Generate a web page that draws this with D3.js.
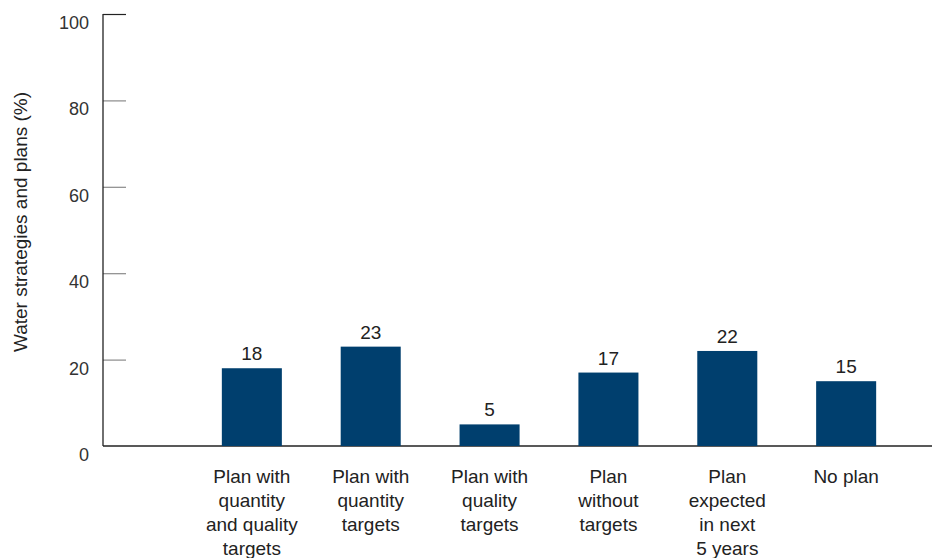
<!DOCTYPE html>
<html>
<head>
<meta charset="utf-8">
<script src="https://cdn.jsdelivr.net/npm/d3@7"></script>
<style>
  html, body { margin: 0; padding: 0; background: #fff; }
  svg { display: block; font-family: "Liberation Sans", Arial, sans-serif; }
</style>
</head>
<body>
<svg id="chart" width="932" height="558"></svg>
<script>
// Share of countries by type of water strategy / plan
const categories = [
  ["Plan with", "quantity", "and quality", "targets"],
  ["Plan with", "quantity", "targets"],
  ["Plan with", "quality", "targets"],
  ["Plan", "without", "targets"],
  ["Plan", "expected", "in next", "5 years"],
  ["No plan"]
];
const values = [18, 23, 5, 17, 22, 15];
const yTicks = [0, 20, 40, 60, 80, 100];
const yTitle = "Water strategies and plans (%)";

const svg = d3.select("#chart");
const x0 = 103, x1 = 932, yTop = 14, yBottom = 446;

const keys = categories.map(c => c.join(" "));
const x = d3.scaleBand()
  .domain(keys)
  .range([163, 935])
  .paddingInner(0.495)
  .paddingOuter(0.495);

const y = d3.scaleLinear().domain([0, 100]).range([yBottom, yTop]);

// gridline stubs inside the axis
const yAxis = d3.axisRight(y).tickValues(yTicks).tickSize(23).tickFormat("");
const gy = svg.append("g").attr("transform", `translate(${x0},0)`).call(yAxis);
gy.select(".domain").remove();
gy.selectAll(".tick line")
  .attr("stroke", d => d === 100 ? "#222" : "#8a8a8a")
  .attr("stroke-width", 1.2)
  .attr("opacity", d => d === 0 ? 0 : 1);

// tick labels
svg.append("g").selectAll("text").data(yTicks).join("text")
  .attr("x", 89)
  .attr("y", d => y(d) + 15)
  .attr("text-anchor", "end")
  .attr("font-size", 18)
  .attr("fill", "#333")
  .text(d => d);

// axis lines
svg.append("line").attr("x1", x0).attr("x2", x0).attr("y1", yTop).attr("y2", yBottom)
  .attr("stroke", "#222").attr("stroke-width", 1.3);
svg.append("line").attr("x1", x0).attr("x2", x1).attr("y1", yBottom).attr("y2", yBottom)
  .attr("stroke", "#222").attr("stroke-width", 1.3);

// bars
svg.append("g").selectAll("rect").data(values).join("rect")
  .attr("x", (d, i) => x(keys[i]))
  .attr("width", x.bandwidth())
  .attr("y", d => y(d))
  .attr("height", d => y(0) - y(d))
  .attr("fill", "#003f6e");

// value labels
svg.append("g").selectAll("text").data(values).join("text")
  .attr("x", (d, i) => x(keys[i]) + x.bandwidth() / 2)
  .attr("y", d => y(d) - 8)
  .attr("text-anchor", "middle")
  .attr("font-size", 19)
  .attr("fill", "#222")
  .text(d => d);

// category labels
const cat = svg.append("g").selectAll("text").data(categories).join("text")
  .attr("x", (d, i) => x(keys[i]) + x.bandwidth() / 2)
  .attr("y", 483)
  .attr("text-anchor", "middle")
  .attr("font-size", 19)
  .attr("fill", "#222");
cat.selectAll("tspan").data(d => d).join("tspan")
  .attr("x", function () { return d3.select(this.parentNode).attr("x"); })
  .attr("dy", (d, i) => i === 0 ? 0 : 24)
  .text(d => d);

// y-axis title
svg.append("text")
  .attr("transform", "translate(27,222) rotate(-90)")
  .attr("text-anchor", "middle")
  .attr("font-size", 19)
  .attr("fill", "#222")
  .text(yTitle);
</script>
</body>
</html>
